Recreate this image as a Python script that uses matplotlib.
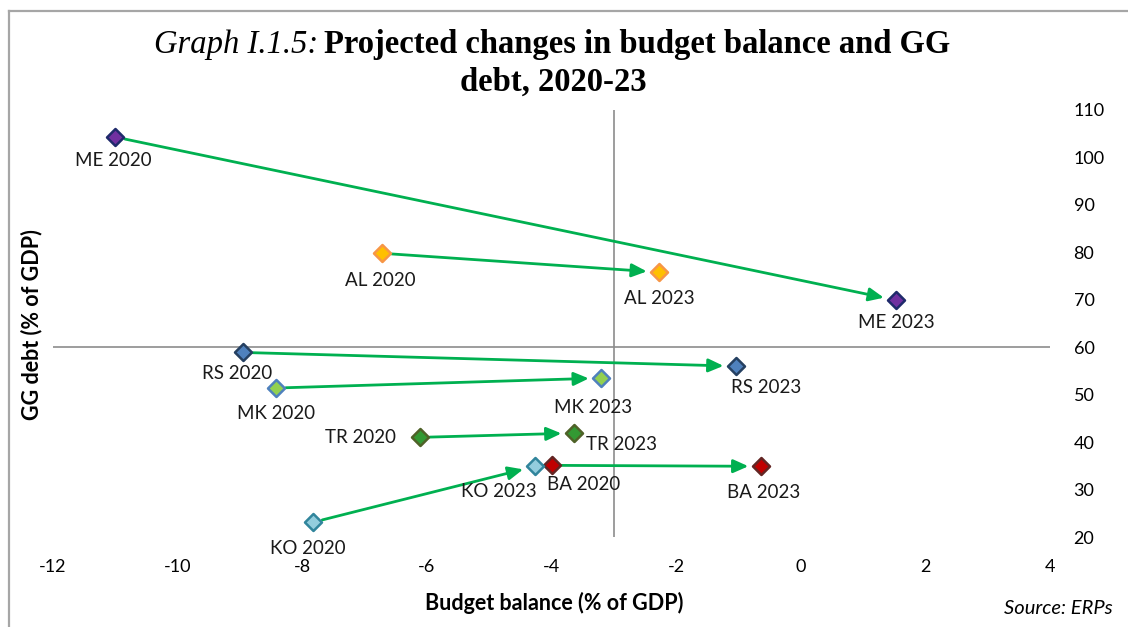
import matplotlib
matplotlib.use("Agg")
import matplotlib.pyplot as plt
from matplotlib.lines import Line2D

# Economies and their budget balance / GG debt (% of GDP)
countries = ["ME", "AL", "RS", "MK", "TR", "BA", "KO"]
balance_2020 = [-11.0, -6.72, -8.95, -8.42, -6.11, -3.99, -7.83]
debt_2020 = [104.3, 79.8, 58.9, 51.4, 41.0, 35.1, 23.1]
balance_2023 = [1.53, -2.27, -1.04, -3.20, -3.64, -0.64, -4.26]
debt_2023 = [69.9, 75.8, 56.0, 53.5, 41.9, 34.9, 34.9]

x_ticks = [-12, -10, -8, -6, -4, -2, 0, 2, 4]
y_ticks = [20, 30, 40, 50, 60, 70, 80, 90, 100, 110]

# Marker fill / edge colours per economy
fills = {"ME": "#7030A0", "AL": "#FFC000", "RS": "#4F81BD", "MK": "#92D050",
         "TR": "#339933", "BA": "#C00000", "KO": "#93CDDD"}
edges = {"ME": "#1F2A6B", "AL": "#F79646", "RS": "#254061", "MK": "#4F81BD",
         "TR": "#4F6228", "BA": "#632523", "KO": "#31859C"}

# Label offsets in pixels (dx, dy) and horizontal alignment
offs_2020 = {"ME": (-2, -23, "center"), "AL": (-2, -27, "center"),
             "RS": (-6, -21, "center"), "MK": (0, -25, "center"),
             "TR": (-24, 0, "right"), "BA": (32, -19, "center"),
             "KO": (-5, -26, "center")}
offs_2023 = {"ME": (0, -22, "center"), "AL": (0, -26, "center"),
             "RS": (30, -21, "center"), "MK": (-8, -29, "center"),
             "TR": (12, -11, "left"), "BA": (3, -26, "center"),
             "KO": (-36, -25, "center")}

W, H = 1128, 627
fig = plt.figure(figsize=(W / 100, H / 100), dpi=100)
fig.patch.set_facecolor("white")

# Outer frame (top and left edges)
frame_kw = dict(transform=fig.transFigure, color="#A6A6A6", linewidth=1.6)
fig.lines.append(Line2D([9 / W, 1.0], [1 - 11 / H, 1 - 11 / H], **frame_kw))
fig.lines.append(Line2D([9 / W, 9 / W], [0.0, 1 - 11 / H], **frame_kw))

ax = fig.add_axes([53 / W, 1 - 537 / H, 997 / W, 427 / H])
ax.set_xlim(-12, 4)
ax.set_ylim(20, 110)
for s in ax.spines.values():
    s.set_visible(False)
ax.axhline(60, color="#8C8C8C", lw=1.2, zorder=1)
ax.axvline(-3, color="#8C8C8C", lw=1.2, zorder=1)

font = "Lato"
ax.set_xticks(x_ticks)
ax.set_xticklabels([str(t) for t in x_ticks], fontsize=13, family=font)
ax.set_yticks(y_ticks)
ax.set_yticklabels([str(t) for t in y_ticks], fontsize=13, family=font)
ax.yaxis.tick_right()
ax.tick_params(axis="x", length=0, pad=16)
ax.tick_params(axis="y", length=0, pad=17)

green = "#00B050"
for i, c in enumerate(countries):
    ax.annotate("", xy=(balance_2023[i], debt_2023[i]),
                xytext=(balance_2020[i], debt_2020[i]),
                arrowprops=dict(arrowstyle="-|>,head_length=0.9,head_width=0.4",
                                color=green, lw=2.0, shrinkA=7, shrinkB=9),
                zorder=2)

for i, c in enumerate(countries):
    for xs, ys, yr, offs in ((balance_2020, debt_2020, "2020", offs_2020),
                             (balance_2023, debt_2023, "2023", offs_2023)):
        ax.scatter(xs[i], ys[i], marker="D", s=75, facecolor=fills[c],
                   edgecolor=edges[c], linewidth=1.8, zorder=4)
        dx, dy, ha = offs[c]
        ax.annotate(f"{c} {yr}", xy=(xs[i], ys[i]), xytext=(dx * 0.72, dy * 0.72),
                    textcoords="offset points", ha=ha, va="center",
                    fontsize=13.5, family=font, color="#1a1a1a", zorder=5)

# Axis titles
fig.text(554 / W, 1 - 603 / H, "Budget balance (% of GDP)", ha="center", va="center",
         fontsize=15.5, fontweight="bold", family=font)
fig.text(32 / W, 1 - 325 / H, "GG debt (% of GDP)", ha="center", va="center",
         rotation=90, fontsize=15.5, fontweight="bold", family=font)
fig.text(1113 / W, 1 - 608 / H, "Source: ERPs", ha="right", va="center",
         fontsize=14.5, style="italic", family=font)

# Title
serif = "Liberation Serif"
fig.text(318 / W, 1 - 45 / H, "Graph I.1.5:", ha="right", va="center",
         fontsize=23.5, style="italic", family=serif)
fig.text(324 / W, 1 - 45 / H, "Projected changes in budget balance and GG", ha="left",
         va="center", fontsize=23.5, fontweight="bold", family=serif)
fig.text(553 / W, 1 - 82 / H, "debt, 2020-23", ha="center", va="center",
         fontsize=23.5, fontweight="bold", family=serif)

fig.savefig("out.png", dpi=100, facecolor="white")
